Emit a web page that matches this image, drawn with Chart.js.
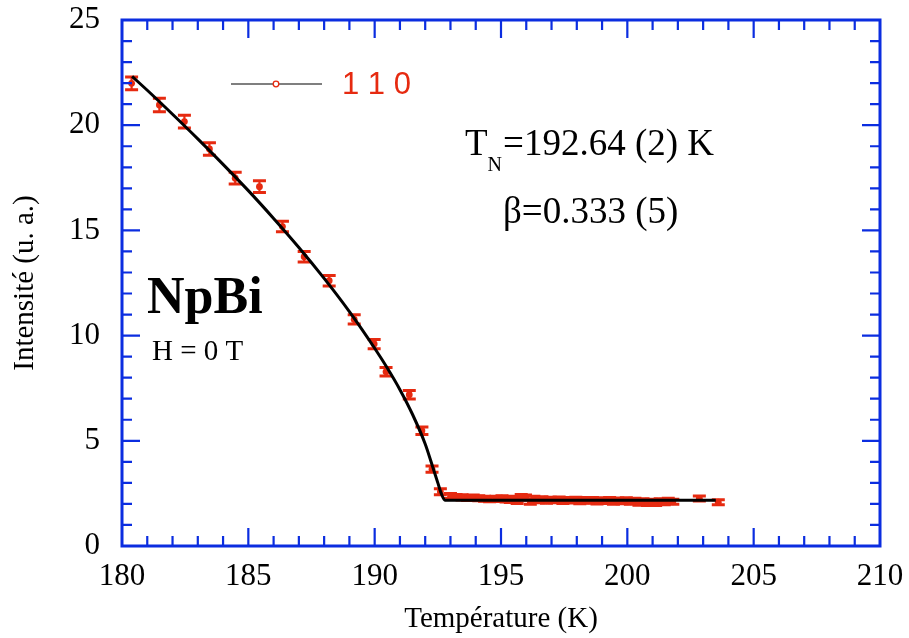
<!DOCTYPE html>
<html>
<head>
<meta charset="utf-8">
<script src="https://cdn.jsdelivr.net/npm/chart.js@4.4.0/dist/chart.umd.min.js"></script>
<style>
  html, body { margin: 0; padding: 0; background: #fff; }
  #wrap { position: relative; width: 909px; height: 638px; }
</style>
</head>
<body>
<div id="wrap"><canvas id="chart"></canvas></div>
<script>
// values
const tempK = [180.38, 181.48, 182.47, 183.46, 184.48, 185.44, 186.35, 187.21, 188.20, 189.19,
  189.98, 190.45, 191.37, 191.87, 192.27, 192.60,
  193.00, 193.22, 193.46, 193.68, 193.90, 194.12, 194.35, 194.55, 194.80, 195.04,
  195.20, 195.37, 195.50, 195.64, 195.80, 195.97, 196.16, 196.30, 196.48, 196.62,
  196.80, 196.95, 197.12, 197.30, 197.45, 197.62, 197.80, 197.96, 198.12, 198.30,
  198.46, 198.62, 198.80, 198.95, 199.12, 199.30, 199.45, 199.62, 199.80, 199.96,
  200.12, 200.30, 200.46, 200.62, 200.80, 200.95, 201.12, 201.30, 201.46, 201.62,
  201.80, 202.85, 203.60];
const intensity = [21.99, 20.96, 20.17, 18.87, 17.48, 17.08, 15.18, 13.75, 12.61, 10.77,
  9.60, 8.28, 7.19, 5.48, 3.65, 2.58,
  2.38, 2.33, 2.31, 2.28, 2.30, 2.27, 2.25, 2.22, 2.24, 2.27,
  2.21, 2.19, 2.25, 2.14, 2.33, 2.30, 2.11, 2.24, 2.18, 2.22,
  2.15, 2.20, 2.17, 2.21, 2.14, 2.19, 2.16, 2.20, 2.13, 2.18,
  2.15, 2.19, 2.12, 2.17, 2.14, 2.18, 2.11, 2.16, 2.13, 2.17,
  2.10, 2.15, 2.06, 2.12, 2.04, 2.10, 2.05, 2.13, 2.08, 2.15,
  2.10, 2.26, 2.08];
const errors = [0.30, 0.32, 0.30, 0.30, 0.28, 0.28, 0.25, 0.25, 0.25, 0.22,
  0.22, 0.20, 0.20, 0.18, 0.15, 0.14,
  0.12, 0.12, 0.12, 0.12, 0.12, 0.12, 0.12, 0.12, 0.12, 0.12,
  0.12, 0.12, 0.12, 0.12, 0.12, 0.12, 0.12, 0.12, 0.12, 0.12,
  0.12, 0.12, 0.12, 0.12, 0.12, 0.12, 0.12, 0.12, 0.12, 0.12,
  0.12, 0.12, 0.12, 0.12, 0.12, 0.12, 0.12, 0.12, 0.12, 0.12,
  0.12, 0.12, 0.12, 0.12, 0.12, 0.12, 0.12, 0.12, 0.12, 0.12,
  0.12, 0.12, 0.12];

// fitted curve
const fitTemp = [180.4, 181, 182, 183, 184, 185, 186, 187, 188, 189, 190, 190.5, 191,
  191.5, 192, 192.3, 192.5, 192.65, 192.78, 203.5];
const fitInt = [22.32, 21.66, 20.52, 19.35, 18.14, 16.89, 15.57, 14.19, 12.72, 11.14, 9.40, 8.46, 7.43,
  6.25, 4.85, 3.75, 3.0, 2.45, 2.18, 2.17];

const xRange = [180, 210];
const yRange = [0, 25];
const majorStep = 5;

const BLUE = '#0b2de0';
const RED = '#e62a10';
const SERIF = "'Liberation Serif', 'Times New Roman', serif";

function pts(xs, ys){ return xs.map((x, i) => ({x, y: ys[i]})); }

// error bars under the markers
const errorBars = {
  id: 'errorBars',
  beforeDatasetsDraw(chart){
    const meta = chart.getDatasetMeta(1);
    const y = chart.scales.y;
    const ctx = chart.ctx;
    ctx.save();
    ctx.strokeStyle = RED;
    meta.data.forEach((p, i) => {
      const v = intensity[i], e = errors[i];
      const top = y.getPixelForValue(v + e), bot = y.getPixelForValue(v - e);
      ctx.lineWidth = 2.2;
      ctx.beginPath(); ctx.moveTo(p.x, top); ctx.lineTo(p.x, bot); ctx.stroke();
      ctx.lineWidth = 3;
      ctx.beginPath();
      ctx.moveTo(p.x - 6.5, top); ctx.lineTo(p.x + 6.5, top);
      ctx.moveTo(p.x - 6.5, bot); ctx.lineTo(p.x + 6.5, bot);
      ctx.stroke();
    });
    ctx.restore();
  }
};

// blue box with inward ticks on all four sides
const frame = {
  id: 'frame',
  afterDatasetsDraw(chart){
    const {ctx, chartArea: a, scales: {x, y}} = chart;
    ctx.save();
    ctx.strokeStyle = BLUE;
    ctx.lineWidth = 2.2;
    ctx.beginPath();
    for (let t = xRange[0] + 1; t < xRange[1]; t++){
      const px = x.getPixelForValue(t);
      const len = t % majorStep === 0 ? 18 : 10;
      ctx.moveTo(px, a.bottom); ctx.lineTo(px, a.bottom - len);
      ctx.moveTo(px, a.top); ctx.lineTo(px, a.top + len);
    }
    for (let v = yRange[0] + 1; v < yRange[1]; v++){
      const py = y.getPixelForValue(v);
      const len = v % majorStep === 0 ? 18 : 10;
      ctx.moveTo(a.left, py); ctx.lineTo(a.left + len, py);
      ctx.moveTo(a.right, py); ctx.lineTo(a.right - len, py);
    }
    ctx.stroke();
    ctx.lineWidth = 3;
    ctx.strokeRect(a.left, a.top, a.right - a.left, a.bottom - a.top);
    ctx.restore();
  }
};

// legend and the labels inside the plot
const notes = {
  id: 'notes',
  afterDraw(chart){
    const ctx = chart.ctx;
    const a = chart.chartArea;
    ctx.save();
    // legend: line with open circle, then "1 1 0"
    const ly = a.top + 64;
    ctx.strokeStyle = '#555';
    ctx.lineWidth = 1.5;
    ctx.beginPath(); ctx.moveTo(a.left + 109, ly); ctx.lineTo(a.left + 200, ly); ctx.stroke();
    ctx.fillStyle = '#fff';
    ctx.strokeStyle = RED;
    ctx.lineWidth = 1.3;
    ctx.beginPath(); ctx.arc(a.left + 154, ly, 2.8, 0, Math.PI * 2); ctx.fill(); ctx.stroke();
    ctx.fillStyle = RED;
    ctx.font = "31px 'Liberation Sans', Arial, sans-serif";
    ctx.textBaseline = 'middle';
    ctx.fillText('1 1 0', a.left + 220, ly + 1);

    ctx.fillStyle = '#000';
    ctx.textBaseline = 'alphabetic';
    // T_N line
    ctx.font = '37px ' + SERIF;
    let x0 = 465;
    ctx.fillText('T', x0, 155);
    x0 += ctx.measureText('T').width;
    ctx.font = '20px ' + SERIF;
    ctx.fillText('N', x0, 171);
    x0 += ctx.measureText('N').width + 1;
    ctx.font = '37px ' + SERIF;
    ctx.fillText('=192.64 (2) K', x0, 155);
    ctx.fillText('\u03b2=0.333 (5)', 503, 223);
    ctx.font = 'bold 52px ' + SERIF;
    ctx.fillText('NpBi', 147, 313);
    ctx.font = '29px ' + SERIF;
    ctx.fillText('H = 0 T', 152, 360);
    ctx.restore();
  }
};

new Chart(document.getElementById('chart'), {
  type: 'scatter',
  data: {
    datasets: [{
      label: 'fit',
      data: pts(fitTemp, fitInt),
      showLine: true,
      borderColor: '#000',
      borderWidth: 3,
      pointRadius: 0,
      cubicInterpolationMode: 'monotone'
    }, {
      label: '110',
      data: pts(tempK, intensity),
      showLine: false,
      pointRadius: 3.4,
      pointBackgroundColor: RED,
      pointBorderWidth: 0
    }]
  },
  options: {
    responsive: true,
    maintainAspectRatio: false,
    animation: false,
    layout: { padding: { top: 20, right: 29, left: 0, bottom: 0 } },
    plugins: { legend: { display: false }, tooltip: { enabled: false } },
    scales: {
      x: {
        type: 'linear', min: xRange[0], max: xRange[1],
        afterFit: s => { s.height = 92; s.paddingLeft = 0; s.paddingRight = 0; },
        grid: { display: false, drawTicks: false },
        border: { display: false },
        ticks: { stepSize: majorStep, color: '#000', padding: 12, font: { family: SERIF, size: 31 } },
        title: { display: true, text: 'Température (K)', color: '#000', padding: { top: 0, bottom: 1 },
          font: { family: SERIF, size: 29 } }
      },
      y: {
        min: yRange[0], max: yRange[1],
        afterFit: s => { s.width = 122; s.paddingTop = 0; s.paddingBottom = 0; },
        grid: { display: false, drawTicks: false },
        border: { display: false },
        ticks: { stepSize: majorStep, color: '#000', padding: 22, font: { family: SERIF, size: 31 } },
        title: { display: true, text: 'Intensité (u. a.)', color: '#000', padding: { top: 8, bottom: 0 },
          font: { family: SERIF, size: 29 } }
      }
    }
  },
  plugins: [errorBars, frame, notes]
});
</script>
</body>
</html>
